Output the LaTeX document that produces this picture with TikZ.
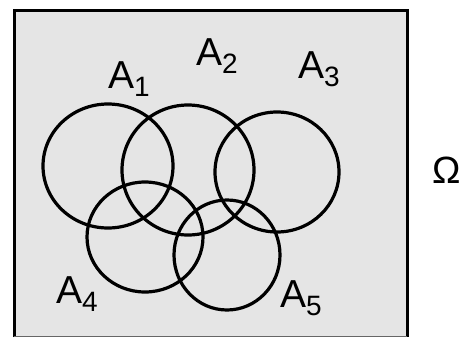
\documentclass[tikz,border=0pt]{standalone}
\usepackage{fontspec}
\setmainfont{Liberation Sans}
\usepackage{tikz}
\usetikzlibrary{positioning}
\definecolor{fondo}{HTML}{E5E5E5}
\newcommand{\conjunto}[1]{A\raisebox{-0.22em}{\fontsize{28}{28}\selectfont #1}}

\begin{document}
\begin{tikzpicture}[
          x=1pt, y=-1pt,
          borde/.style={draw=black, line width=3pt},
          conj/.style={draw=black, line width=3.2pt},
          lbl/.style={font=\fontsize{39}{39}\selectfont, inner sep=0pt, anchor=base west}
        ]
        \useasboundingbox (0,0) rectangle (473,337);
        \fill[fondo] (14,11) rectangle (407,337);
        \draw[borde] (14,337) -- (14,11) -- (407,11) -- (407,337);
        \draw[black!60, line width=1pt] (14,336) -- (407,336);
        % los cinco conjuntos
        \draw[conj] (108,166) ellipse [x radius=65, y radius=62];
        \draw[conj] (188,170) ellipse [x radius=66, y radius=65];
        \draw[conj] (277,172) ellipse [x radius=62, y radius=60];
        \draw[conj] (145,237) ellipse [x radius=58, y radius=55];
        \draw[conj] (227,255) ellipse [x radius=53, y radius=55];
        % etiquetas
        \node[lbl] (a1) at (108,88) {\conjunto{1}};
        \node[lbl] (a2) at (196,65) {\conjunto{2}};
        \node[lbl] (a3) at (298,78) {\conjunto{3}};
        \node[lbl] (a4) at (56,303) {\conjunto{4}};
        \node[lbl] (a5) at (280,307) {\conjunto{5}};
        \node[font=\fontsize{38}{38}\selectfont, inner sep=0pt] (omega) at (447,170) {Ω};
      \end{tikzpicture}
\end{document}
